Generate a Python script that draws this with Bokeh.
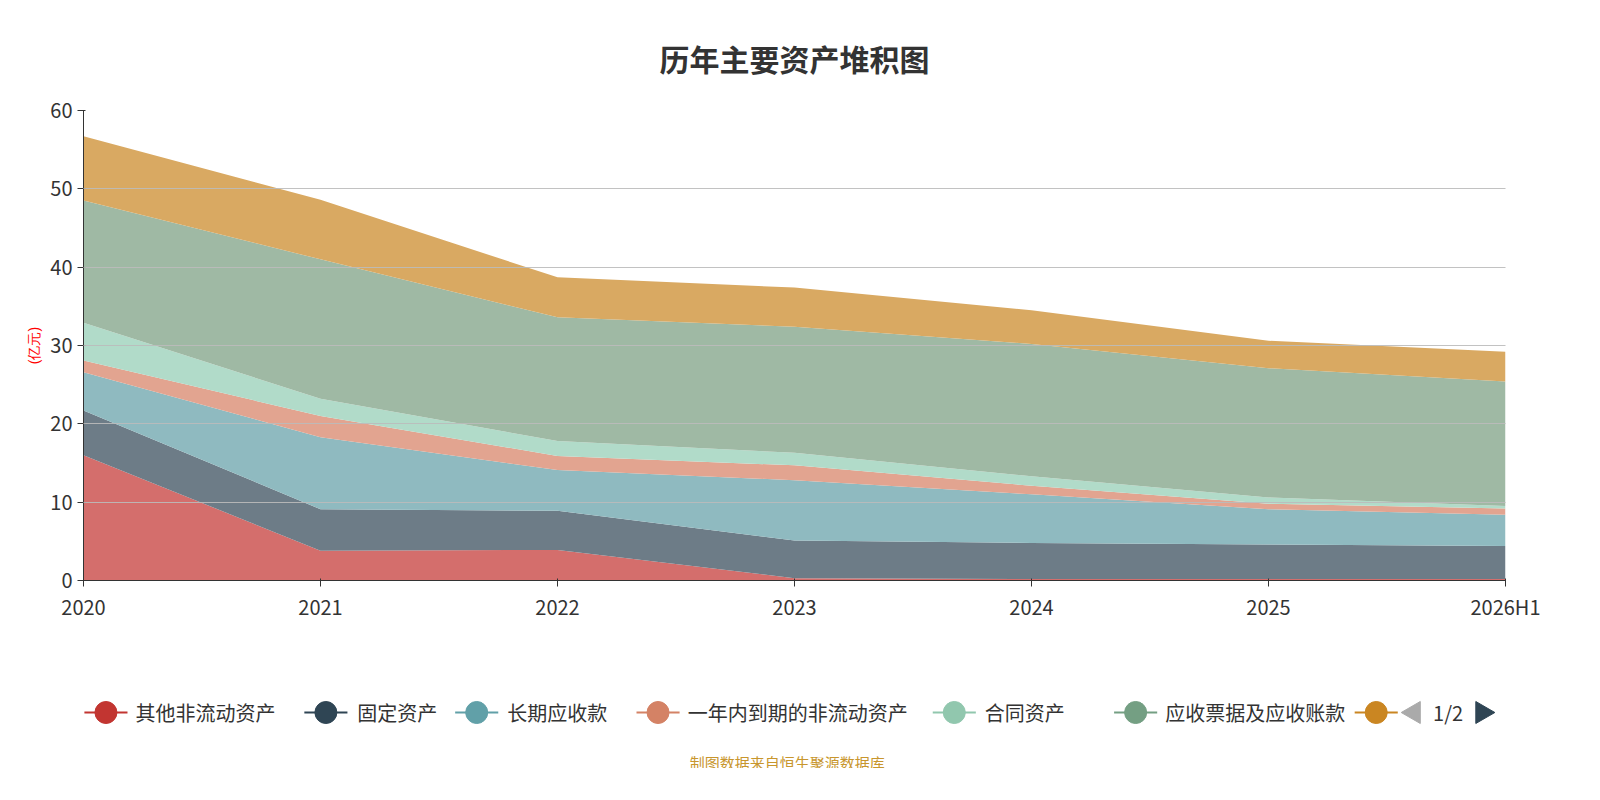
from bokeh.plotting import figure
from bokeh.layouts import column
from bokeh.models import ColumnDataSource, FixedTicker
from bokeh.core.properties import value
from bokeh.embed import file_html
from bokeh.resources import INLINE

years = ["2020", "2021", "2022", "2023", "2024", "2025", "2026H1"]
series = ["其他非流动资产", "固定资产", "长期应收款", "一年内到期的非流动资产", "合同资产", "应收票据及应收账款", "其他"]
other_nc = [16.0, 3.8, 3.9, 0.3, 0.2, 0.2, 0.2]
fixed = [5.7, 5.3, 5.0, 4.8, 4.6, 4.4, 4.2]
lt_recv = [4.9, 9.2, 5.2, 7.7, 6.2, 4.5, 4.0]
cur_nc = [1.5, 2.7, 1.8, 1.9, 1.1, 0.7, 0.8]
contract = [4.8, 2.2, 1.9, 1.6, 1.2, 0.8, 0.3]
receiv = [15.6, 17.8, 15.8, 16.1, 16.9, 16.5, 15.9]
other = [8.2, 7.6, 5.1, 5.0, 4.3, 3.5, 3.8]

fills = ["#d46e6c", "#6d7c87", "#8fbac0", "#e2a490", "#b1dbc9", "#9fb9a4", "#d9a962"]
marks = ["#c23531", "#2f4554", "#61a0a8", "#d48265", "#91c7ae", "#749f83", "#ca8622"]

keys = ["s%d" % i for i in range(7)]
data = dict(x=list(range(len(years))))
for k, v in zip(keys, [other_nc, fixed, lt_recv, cur_nc, contract, receiv, other]):
    data[k] = v
src = ColumnDataSource(data)

p = figure(width=1584, height=640, x_range=(0, 6), y_range=(0, 60),
           output_backend="svg", toolbar_location=None,
           min_border_left=83, min_border_right=79, min_border_top=110, min_border_bottom=60)
p.varea_stack(stackers=keys, x="x", source=src, fill_color=fills, fill_alpha=1.0)
p.title.text = "历年主要资产堆积图"
p.title.align = "center"
p.title.text_font_size = "30px"
p.title.text_font = "Noto Sans CJK SC"
p.title.text_color = "#333333"
p.title.standoff = 62
p.outline_line_color = None
p.xgrid.visible = False
p.ygrid.grid_line_color = "#bbbbbb"
p.ygrid.level = "overlay"
p.ygrid.grid_line_alpha = 0.9
p.yaxis.ticker = FixedTicker(ticks=[0, 10, 20, 30, 40, 50, 60])
p.xaxis.ticker = FixedTicker(ticks=list(range(7)))
p.xaxis.major_label_overrides = {i: y for i, y in enumerate(years)}
for ax in (p.xaxis, p.yaxis):
    ax.major_label_text_font_size = "20px"
    ax.major_label_text_font = "Noto Sans CJK SC"
    ax.major_label_text_color = "#333333"
    ax.axis_line_color = "#333333"
    ax.major_tick_line_color = "#333333"
    ax.minor_tick_line_color = None
p.yaxis.axis_label = "(亿元)"
p.yaxis.axis_label_text_color = "red"
p.yaxis.axis_label_text_font_size = "14px"
p.yaxis.axis_label_text_font_style = "normal"

lg = figure(width=1584, height=128, x_range=(0, 1584), y_range=(0, 128),
            output_backend="svg", toolbar_location=None, min_border=0,
            x_axis_location=None, y_axis_location=None)
lg.grid.visible = False
lg.outline_line_color = None
cx = [25, 270, 438, 640, 970, 1172, 1440]
tx = [58, 305, 472, 673, 1004, 1205]
for i in range(7):
    lg.line([cx[i] - 24, cx[i] + 24], [56, 56], line_color=marks[i], line_width=2)
    lg.scatter([cx[i]], [56], size=22, color=marks[i])
for i in range(6):
    lg.text([tx[i]], [56], text=[series[i]], text_baseline="middle", text_font_size="20px",
            text_font=value("Noto Sans CJK SC"), text_color="#333333")
lg.scatter([1482], [56], marker="triangle", angle=1.5708, size=22, color="#aaaaaa")
lg.text([1520], [56], text=["1/2"], text_align="center", text_baseline="middle",
        text_font_size="20px", text_font=value("Noto Sans CJK SC"), text_color="#333333")
lg.scatter([1558], [56], marker="triangle", angle=-1.5708, size=22, color="#2f4554")
lg.text([784], [6], text=["制图数据来自恒生聚源数据库"], text_align="center", text_baseline="middle",
        text_font_size="15px", text_font=value("Noto Sans CJK SC"), text_color="#c8962d")

open("out.html", "w").write(file_html(column(p, lg, spacing=0), INLINE))
